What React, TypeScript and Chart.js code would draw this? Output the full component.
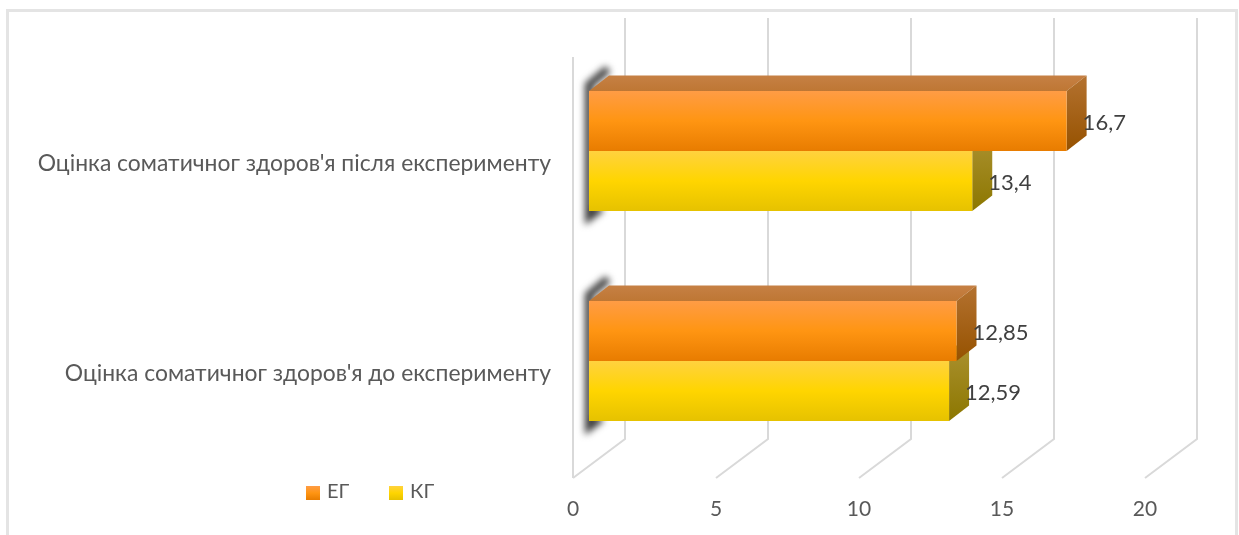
import { useEffect, useRef } from "react";
import { Chart, registerables } from "chart.js";

Chart.register(...registerables);

const categories = [
  "Оцінка соматичног здоров'я після експерименту",
  "Оцінка соматичног здоров'я до експерименту",
];
const egValues = [16.7, 12.85];
const kgValues = [13.4, 12.59];
const seriesNames = ["ЕГ", "КГ"];
const valueTicks = [0, 5, 10, 15, 20];

const FONT = "Lato, Carlito, 'Open Sans', sans-serif";
const CAT_PCT = 120 / 210;

// Depth of the extruded bars and of the back wall, in pixels.
const BAR_DX = 20;
const BAR_DY = 15.5;
const WALL_SHIFT = -16;
const WALL_DX = 52;
const WALL_DY = 39;

const palettes = [
  {
    front: ["#FF9C45", "#FF9512", "#E87C00"],
    top: ["#C68044", "#BE7734"],
    side: ["#B47230", "#965200"],
  },
  {
    front: ["#FFD23F", "#FFD500", "#E6C200"],
    top: ["#B8A030", "#B09A20"],
    side: ["#AB9130", "#8C7700"],
  },
];

function barThickness(chart: any) {
  return ((chart.scales.y.height / categories.length) * CAT_PCT) / 2;
}

function vGrad(ctx: CanvasRenderingContext2D, y0: number, y1: number, colors: string[]) {
  const g = ctx.createLinearGradient(0, y0, 0, y1);
  colors.forEach((c, i) => g.addColorStop(i / (colors.length - 1), c));
  return g;
}

function poly(ctx: CanvasRenderingContext2D, pts: number[][], fill: any) {
  ctx.beginPath();
  pts.forEach(([x, y], i) => (i ? ctx.lineTo(x, y) : ctx.moveTo(x, y)));
  ctx.closePath();
  ctx.fillStyle = fill;
  ctx.fill();
}

const backdrop = {
  id: "backdrop",
  beforeDatasetsDraw(chart: any) {
    const { ctx, scales, chartArea, width, height } = chart;
    const xs = scales.x;
    ctx.save();

    // Outer frame of the chart
    ctx.strokeStyle = "#E4E4E4";
    ctx.lineWidth = 3;
    ctx.beginPath();
    ctx.moveTo(7.5, height);
    ctx.lineTo(7.5, 10.5);
    ctx.lineTo(width - 2.5, 10.5);
    ctx.lineTo(width - 2.5, height);
    ctx.stroke();

    // Floor and back wall gridlines
    const floorY = chartArea.bottom + 12;
    ctx.strokeStyle = "#D9D9D9";
    ctx.lineWidth = 2;
    valueTicks.forEach((v) => {
      const fx = xs.getPixelForValue(v) + WALL_SHIFT;
      ctx.beginPath();
      ctx.moveTo(fx, floorY);
      ctx.lineTo(fx + WALL_DX, floorY - WALL_DY);
      ctx.lineTo(fx + WALL_DX, 18);
      ctx.stroke();
    });
    const x0 = xs.getPixelForValue(0) + WALL_SHIFT;
    ctx.beginPath();
    ctx.moveTo(x0, 57);
    ctx.lineTo(x0, floorY);
    ctx.stroke();

    // Soft shadow down the left end of each bar group
    const t = barThickness(chart);
    const bx = xs.getPixelForValue(0);
    categories.forEach((_, i) => {
      const cy = scales.y.getPixelForValue(i);
      ctx.save();
      ctx.filter = "blur(3.5px)";
      ctx.strokeStyle = "#3A3A3A";
      ctx.lineWidth = 8;
      ctx.lineCap = "butt";
      ctx.lineJoin = "miter";
      ctx.beginPath();
      ctx.moveTo(bx + 19, cy - t - 22);
      ctx.lineTo(bx, cy - t - 6);
      ctx.lineTo(bx, cy + t + 6);
      ctx.lineTo(bx + 12, cy + t - 3);
      ctx.stroke();
      ctx.restore();
    });

    // Top and end faces; the lower series goes first so the upper one overlaps it
    [1, 0].forEach((d) => {
      const meta = chart.getDatasetMeta(d);
      meta.data.forEach((bar: any) => {
        const top = bar.y - t / 2;
        const bottom = bar.y + t / 2;
        const p = palettes[d];
        poly(
          ctx,
          [[bx, top], [bx + BAR_DX, top - BAR_DY], [bar.x + BAR_DX, top - BAR_DY], [bar.x, top]],
          vGrad(ctx, top - BAR_DY, top, p.top),
        );
        poly(
          ctx,
          [[bar.x, top], [bar.x + BAR_DX, top - BAR_DY], [bar.x + BAR_DX, bottom - BAR_DY], [bar.x, bottom]],
          vGrad(ctx, top - BAR_DY, bottom, p.side),
        );
      });
    });
    ctx.restore();
  },
  afterDatasetsDraw(chart: any) {
    const { ctx } = chart;
    ctx.save();
    ctx.font = `22px ${FONT}`;
    ctx.fillStyle = "#404040";
    ctx.textAlign = "left";
    ctx.textBaseline = "middle";

    // Value labels sit just past each bar's front corner
    chart.data.datasets.forEach((ds: any, d: number) => {
      chart.getDatasetMeta(d).data.forEach((bar: any, i: number) => {
        ctx.fillText(String(ds.data[i]).replace(".", ","), bar.x + 16, bar.y + 2);
      });
    });

    // Legend entries
    const swatchX = [306, 389];
    ctx.font = `20px ${FONT}`;
    chart.data.datasets.forEach((ds: any, d: number) => {
      ctx.fillStyle = vGrad(ctx, 486, 500, palettes[d].front);
      ctx.fillRect(swatchX[d], 486, 14, 14);
      ctx.fillStyle = "#595959";
      ctx.fillText(ds.label, swatchX[d] + 21, 492);
    });
    ctx.restore();
  },
};

function frontFill(d: number) {
  return (c: any) => {
    const { chart, dataIndex } = c;
    const ys = chart.scales.y;
    if (!ys || !chart.chartArea) return palettes[d].front[1];
    const t = barThickness(chart);
    const cy = ys.getPixelForValue(dataIndex);
    const top = d === 0 ? cy - t : cy;
    return vGrad(chart.ctx, top, top + t, palettes[d].front);
  };
}

export default function App() {
  const ref = useRef<HTMLCanvasElement>(null);

  useEffect(() => {
    document.body.style.margin = "0";
    const chart = new Chart(ref.current!, {
      type: "bar",
      data: {
        labels: categories,
        datasets: [
          { label: seriesNames[0], data: egValues, backgroundColor: frontFill(0) },
          { label: seriesNames[1], data: kgValues, backgroundColor: frontFill(1) },
        ],
      },
      options: {
        indexAxis: "y",
        responsive: false,
        animation: false,
        layout: { padding: { top: 46, right: 78, left: 0, bottom: 0 } },
        datasets: { bar: { categoryPercentage: CAT_PCT, barPercentage: 1 } },
        plugins: { legend: { display: false }, tooltip: { enabled: false }, title: { display: false } },
        scales: {
          x: {
            min: 0,
            max: 20,
            grid: { display: false, drawTicks: false },
            border: { display: false },
            afterFit(s: any) {
              s.height = 69;
            },
            ticks: {
              stepSize: 5,
              padding: 31,
              labelOffset: WALL_SHIFT,
              maxRotation: 0,
              color: "#595959",
              font: { family: FONT, size: 21 },
            },
          },
          y: {
            grid: { display: false, drawTicks: false },
            border: { display: false },
            afterFit(s: any) {
              s.width = 589;
              s.paddingTop = 0;
              s.paddingBottom = 0;
            },
            ticks: {
              padding: 38,
              labelOffset: 13,
              color: "#595959",
              font: { family: FONT, size: 22.9 },
            },
          },
        },
      } as any,
      plugins: [backdrop],
    });
    return () => chart.destroy();
  }, []);

  return <canvas ref={ref} width={1239} height={535} style={{ display: "block" }} />;
}
